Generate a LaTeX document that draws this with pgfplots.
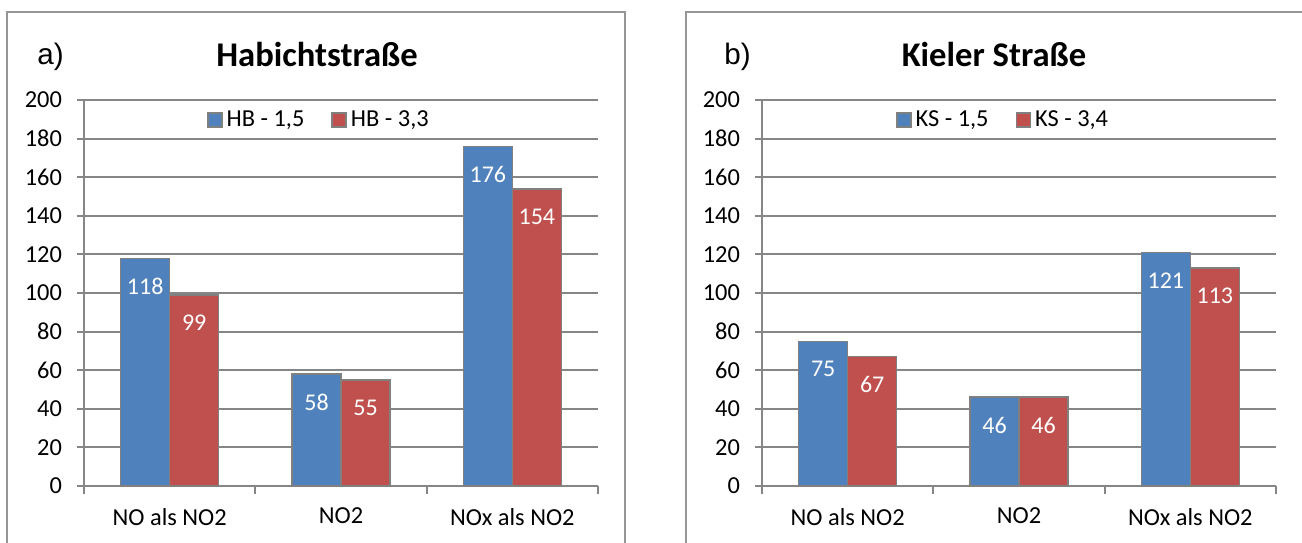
\documentclass[border=0pt]{standalone}
\usepackage{fontspec}
\setmainfont{Carlito}
\newfontfamily\arialfont{Liberation Sans}
\usepackage{pgfplots}
\pgfplotsset{compat=1.18}

\definecolor{xblue}{RGB}{79,129,189}
\definecolor{xred}{RGB}{192,80,77}
\definecolor{gridgray}{RGB}{134,134,134}
\definecolor{edgegray}{RGB}{128,128,128}
\definecolor{framegray}{RGB}{150,150,150}

\pgfplotsset{
  panel/.style={
    scale only axis, width=257pt, height=193pt,
    anchor=south west,
    ybar=0pt, bar width=24.5pt,
    ymin=0, ymax=200, ytick={0,20,...,200},
    xmin=-0.5, xmax=2.5, xtick={0,1,2},
    xticklabels={NO als NO2, NO2, NOx als NO2},
    minor xtick={-0.5,0.5,1.5,2.5},
    axis x line*=bottom, axis y line*=left,
    axis line style={draw=gridgray, line width=1pt, -},
    ymajorgrids, grid style={draw=gridgray, line width=1pt},
    tick align=outside, major tick length=3.5pt, minor tick length=4pt,
    tick style={draw=gridgray, line width=1pt},
    major x tick style={draw=none},
    ticklabel style={font=\fontsize{12.2}{14}\selectfont},
    xticklabel style={yshift=-4pt},
    yticklabel style={xshift=-4pt},
    /pgf/number format/assume math mode=true,
    nodes near coords,
    every node near coord/.append style={anchor=center, yshift=-14pt,
      text=white, font=\fontsize{12}{14}\selectfont},
    legend columns=2,
    legend style={draw=none, fill=none, anchor=center,
      font=\fontsize{12.2}{14}\selectfont,
      /tikz/every even column/.append style={column sep=11.5pt}},
    legend image code/.code={\draw[#1, line width=0.75pt] (0pt,-3.5pt) rectangle (7pt,3.5pt);},
  },
  blueb/.style={fill=xblue, draw=edgegray, line width=0.75pt},
  redb/.style={fill=xred, draw=edgegray, line width=0.75pt},
}

\begin{document}
\begin{tikzpicture}
\useasboundingbox (0,0) rectangle (651pt,271pt);
\clip (0,0) rectangle (651pt,271pt);
\draw[framegray, line width=0.9pt] (3.5pt,-5pt) rectangle (312.5pt,265pt);
\draw[framegray, line width=0.9pt] (343pt,-5pt) rectangle (660pt,265pt);

\node[font=\arialfont\fontsize{14.8}{16}\selectfont] at (25.25pt,242.5pt) {a)};
\node[font=\bfseries\fontsize{17.3}{20}\selectfont] at (158.5pt,244pt) {Habichtstraße};
\begin{axis}[panel, at={(42pt,28pt)}, legend style={at={(0.459,0.948)}}]
\addplot[blueb] coordinates {(0,118) (1,58) (2,176)};
\addplot[redb] coordinates {(0,99) (1,55) (2,154)};
\legend{{HB - 1,5},{HB - 3,3}}
\end{axis}

\node[font=\arialfont\fontsize{14.8}{16}\selectfont] at (368.75pt,242.5pt) {b)};
\node[font=\bfseries\fontsize{17.3}{20}\selectfont] at (497pt,244pt) {Kieler Straße};
\begin{axis}[panel, at={(381pt,28pt)}, legend style={at={(0.471,0.948)}}]
\addplot[blueb] coordinates {(0,75) (1,46) (2,121)};
\addplot[redb] coordinates {(0,67) (1,46) (2,113)};
\legend{{KS - 1,5},{KS - 3,4}}
\end{axis}
\end{tikzpicture}
\end{document}
